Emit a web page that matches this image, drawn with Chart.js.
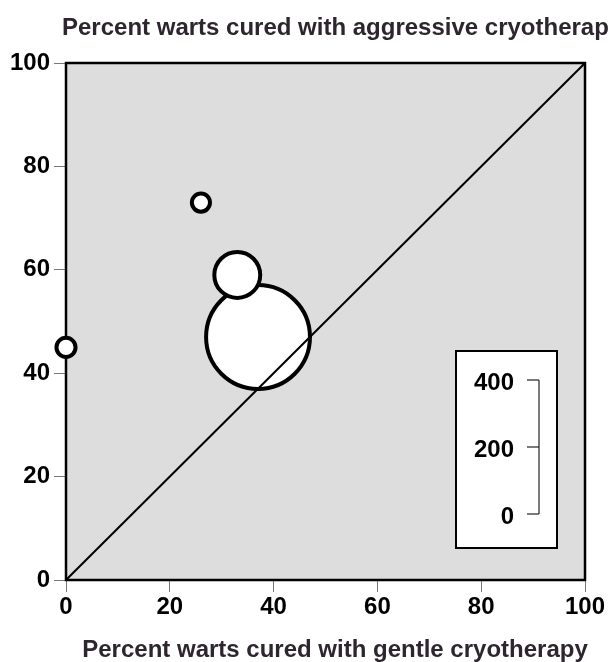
<!DOCTYPE html>
<html>
<head>
<meta charset="utf-8">
<script src="https://cdn.jsdelivr.net/npm/chart.js@4/dist/chart.umd.min.js"></script>
<style>
  html, body { margin: 0; padding: 0; background: #ffffff; }
  #wrap { width: 609px; height: 662px; position: relative; }
</style>
</head>
<body>
<div id="wrap"><canvas id="c" width="609" height="662"></canvas></div>
<script>
// ---- data ----
const studyGentle = [37, 33, 26, 0];      // % cured, gentle cryotherapy (x)
const studyAggressive = [47, 59, 73, 45]; // % cured, aggressive cryotherapy (y)
const studySize = [322, 149, 66, 69];     // patients (bubble size)
const axisTicks = [0, 20, 40, 60, 80, 100];
const legendTicks = [0, 200, 400];
const yTitle = 'Percent warts cured with aggressive cryotherapy';
const xTitle = 'Percent warts cured with gentle cryotherapy';

// bubble diameter scale: 400 patients -> 134 px diameter
const sizeMax = 400;
const diamAtMax = 134;
function radiusFor(n) { return n * diamAtMax / sizeMax / 2; }

const FONT = '"Liberation Sans", Arial, Helvetica, sans-serif';
const BORDER = 4;

const bubblePoints = studyGentle.map((x, i) => ({ x: x, y: studyAggressive[i], r: radiusFor(studySize[i]) - BORDER / 2 }));

const plotDecor = {
  id: 'plotDecor',
  beforeDatasetsDraw(chart) {
    const { ctx, chartArea: a } = chart;
    ctx.save();
    ctx.fillStyle = '#dddddd';
    ctx.fillRect(a.left, a.top, a.right - a.left, a.bottom - a.top);
    ctx.strokeStyle = '#000000';
    ctx.lineWidth = 2.5;
    ctx.strokeRect(a.left, a.top, a.right - a.left, a.bottom - a.top);
    ctx.restore();
  },
  afterDraw(chart) {
    const { ctx } = chart;
    ctx.save();
    // titles
    ctx.fillStyle = '#2e262e';
    ctx.font = 'bold 24px ' + FONT;
    ctx.textBaseline = 'alphabetic';
    ctx.textAlign = 'left';
    ctx.fillText(yTitle, 62, 35);
    ctx.textAlign = 'center';
    ctx.fillText(xTitle, 335, 657);

    // size legend box
    const bx = 456, by = 351, bw = 101, bh = 197;
    ctx.fillStyle = '#ffffff';
    ctx.fillRect(bx, by, bw, bh);
    ctx.strokeStyle = '#000000';
    ctx.lineWidth = 2;
    ctx.strokeRect(bx, by, bw, bh);

    const bottomY = 514;
    const lineX = 539;
    const topY = bottomY - diamAtMax;
    ctx.strokeStyle = '#222222';
    ctx.lineWidth = 1.2;
    ctx.beginPath();
    ctx.moveTo(lineX, topY);
    ctx.lineTo(lineX, bottomY);
    ctx.stroke();
    ctx.fillStyle = '#000000';
    ctx.font = 'bold 24px ' + FONT;
    ctx.textAlign = 'right';
    ctx.textBaseline = 'middle';
    legendTicks.forEach(v => {
      const y = bottomY - v * diamAtMax / sizeMax;
      ctx.beginPath();
      ctx.moveTo(lineX - 12, y);
      ctx.lineTo(lineX, y);
      ctx.stroke();
      ctx.fillText(String(v), 514, y + 3);
    });
    ctx.restore();
  }
};

new Chart(document.getElementById('c'), {
  data: {
    datasets: [
      {
        type: 'line',
        data: [{ x: 0, y: 0 }, { x: 100, y: 100 }],
        borderColor: '#000000',
        borderWidth: 2,
        pointRadius: 0,
        order: 0
      },
      {
        type: 'bubble',
        data: bubblePoints,
        backgroundColor: '#ffffff',
        borderColor: '#000000',
        borderWidth: BORDER,
        hoverRadius: 0,
        clip: false,
        order: 1
      }
    ]
  },
  options: {
    responsive: false,
    animation: false,
    events: [],
    layout: { autoPadding: false, padding: { top: 63, right: 24, bottom: 0, left: 0 } },
    plugins: { legend: { display: false }, tooltip: { enabled: false }, title: { display: false } },
    scales: {
      x: {
        type: 'linear', min: 0, max: 100,
        afterBuildTicks(s) { s.ticks = axisTicks.map(v => ({ value: v })); },
        afterFit(s) { s.height = 82; },
        ticks: { color: '#000000', font: { family: FONT, size: 24, weight: 'bold' }, padding: 1, maxRotation: 0 },
        grid: { drawOnChartArea: false, drawTicks: true, tickLength: 12, color: '#777777', lineWidth: 1 },
        border: { display: false }
      },
      y: {
        type: 'linear', min: 0, max: 100,
        afterBuildTicks(s) { s.ticks = axisTicks.map(v => ({ value: v })); },
        afterFit(s) { s.width = 66; },
        ticks: { color: '#000000', font: { family: FONT, size: 24, weight: 'bold' }, padding: 4 },
        grid: { drawOnChartArea: false, drawTicks: true, tickLength: 12, color: '#777777', lineWidth: 1 },
        border: { display: false }
      }
    }
  },
  plugins: [plotDecor]
});
</script>
</body>
</html>
